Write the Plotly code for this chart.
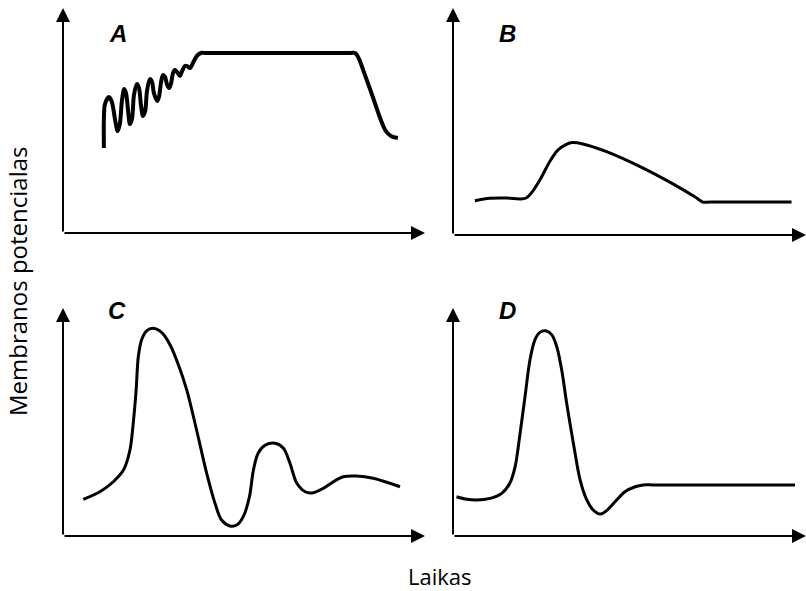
import plotly.graph_objects as go

# Panel A (time, membrane potential), arbitrary units 0-100
a_t = [11.3, 11.3, 11.6, 12.7, 13.5, 14.4, 15.1, 15.7, 16.3, 16.9, 17.4, 17.96, 18.5, 19.1, 19.6, 20.4,
       21.0, 21.5, 22.1, 22.7, 23.2, 24.0, 24.6, 25.1, 26.0, 26.5, 27.1, 27.6, 28.2, 28.7, 29.3, 29.8,
       30.4, 30.9, 31.5, 32.3, 32.9, 33.7, 34.3, 35.1, 35.9, 37.0, 38.1, 39.5, 79.3, 80.7, 81.8, 83.1,
       85.6, 87.8, 89.2, 90.6, 92.5]
a_v = [37.8, 51.1, 57.3, 60.4, 58.2, 50.2, 45.3, 48.4, 59.1, 64.0, 62.2, 54.7, 48.4, 51.1, 61.3, 66.2,
       64.4, 57.3, 52.0, 54.2, 63.1, 68.4, 67.1, 62.2, 58.7, 60.4, 67.1, 70.2, 69.3, 66.2, 64.4, 66.2,
       71.1, 72.4, 71.6, 69.8, 72.0, 74.2, 74.2, 73.3, 75.6, 78.7, 80.0, 80.0, 80.0, 80.0, 77.3, 71.6,
       60.4, 50.2, 45.3, 43.1, 42.2]

# Panel B
b_t = [6.2, 10.5, 15.2, 19.0, 20.7, 22.4, 24.6, 27.5, 29.7, 31.7, 33.7, 36.8, 43.5, 53.0, 62.3, 68.6,
       70.8, 72.8, 95.9]
b_v = [15.1, 16.2, 16.3, 15.9, 16.3, 18.9, 24.2, 32.6, 37.4, 39.6, 40.7, 40.1, 36.7, 30.1, 22.5, 16.7,
       14.5, 14.5, 14.5]

# Panel C
c_t = [5.6, 10.2, 13.9, 16.7, 18.5, 19.4, 20.2, 20.8, 21.7, 23.1, 24.9, 27.3, 29.6, 31.9, 34.2, 36.9,
       39.7, 42.0, 43.8, 46.1, 48.0, 49.8, 51.5, 52.6, 53.9, 55.8, 58.6, 60.9, 62.7, 64.6, 66.9, 69.1,
       71.9, 74.7, 77.4, 81.1, 85.7, 93.1]
c_v = [16.1, 19.4, 23.8, 28.9, 37.7, 49.4, 64.0, 78.6, 86.0, 90.0, 91.1, 89.2, 83.8, 75.0, 64.0, 46.5,
       27.5, 14.3, 7.0, 4.4, 4.8, 8.5, 17.2, 28.9, 36.3, 39.8, 40.7, 38.5, 31.9, 23.1, 19.4, 19.0,
       20.9, 23.8, 26.0, 26.3, 25.3, 21.6]

# Panel D
d_t = [1.0, 3.9, 6.7, 10.5, 13.8, 16.1, 17.6, 19.0, 20.4, 21.8, 23.2, 24.6, 26.3, 28.0, 29.4, 30.8,
       32.2, 34.1, 36.0, 37.9, 39.7, 41.8, 43.5, 45.9, 48.7, 51.6, 53.9, 56.7, 96.9]
d_v = [17.2, 16.1, 15.8, 16.5, 18.7, 23.1, 30.4, 45.0, 61.1, 77.2, 86.0, 89.3, 90.0, 88.2, 83.0, 72.8,
       58.2, 40.7, 24.6, 15.8, 11.4, 9.6, 11.1, 15.0, 19.4, 21.6, 22.4, 22.4, 22.4]

panel_labels = ["A", "B", "C", "D"]
x_title = "Laikas"
y_title = "Membranos potencialas"

W, H = 806, 591
# pixel boxes (left, right, top, bottom) of each panel's axes
boxes = [(63, 425, 8, 233), (453, 806, 8, 235), (63, 425, 308, 536), (453, 806, 308, 536)]
label_pos = [(118, 33), (508, 33), (117, 311), (507, 311)]
line_w = [4, 3, 3, 3]
series = [(a_t, a_v), (b_t, b_v), (c_t, c_v), (d_t, d_v)]

fig = go.Figure()
layout = dict(width=W, height=H, margin=dict(l=0, r=0, t=0, b=0),
              paper_bgcolor="white", plot_bgcolor="white", showlegend=False)
annotations = []
for i, ((l, r, t, b), (xs, ys)) in enumerate(zip(boxes, series)):
    n = "" if i == 0 else str(i + 1)
    ax_common = dict(showgrid=False, zeroline=False, showticklabels=False, ticks="",
                     showline=False, fixedrange=True)
    layout["xaxis" + n] = dict(domain=[l / W, r / W], range=[0, 100], anchor="y" + n, **ax_common)
    layout["yaxis" + n] = dict(domain=[1 - b / H, 1 - t / H], range=[0, 100], anchor="x" + n, **ax_common)
    fig.add_trace(go.Scatter(x=xs, y=ys, mode="lines", xaxis="x" + n, yaxis="y" + n,
                             line=dict(color="black", width=line_w[i], shape="spline", smoothing=0.9),
                             hoverinfo="skip"))
    # axis arrows
    annotations.append(dict(xref="x" + n + " domain", yref="y" + n + " domain", x=1, y=0,
                            axref="pixel", ayref="pixel", ax=-(r - l), ay=0, text="",
                            showarrow=True, arrowhead=2, arrowsize=1.4, arrowwidth=2, arrowcolor="black"))
    annotations.append(dict(xref="x" + n + " domain", yref="y" + n + " domain", x=0, y=1,
                            axref="pixel", ayref="pixel", ax=0, ay=(b - t), text="",
                            showarrow=True, arrowhead=2, arrowsize=1.4, arrowwidth=2, arrowcolor="black"))
    lx, ly = label_pos[i]
    annotations.append(dict(xref="paper", yref="paper", x=lx / W, y=1 - ly / H,
                            text="<b><i>%s</i></b>" % panel_labels[i], showarrow=False,
                            font=dict(family="Liberation Sans", size=24, color="black"),
                            xanchor="center", yanchor="middle"))

annotations.append(dict(xref="paper", yref="paper", x=440 / W, y=1 - 576 / H, text=x_title, showarrow=False,
                        font=dict(family="Open Sans", size=22, color="black"), xanchor="center", yanchor="middle"))
annotations.append(dict(xref="paper", yref="paper", x=17 / W, y=1 - 281 / H, text=y_title, showarrow=False,
                        textangle=-90, font=dict(family="Open Sans", size=24, color="black"),
                        xanchor="center", yanchor="middle"))
layout["annotations"] = annotations
fig.update_layout(**layout)
fig.write_html("out.html", config={"displayModeBar": False},
               post_script="document.body.style.margin='0px';document.body.style.overflow='hidden';")
